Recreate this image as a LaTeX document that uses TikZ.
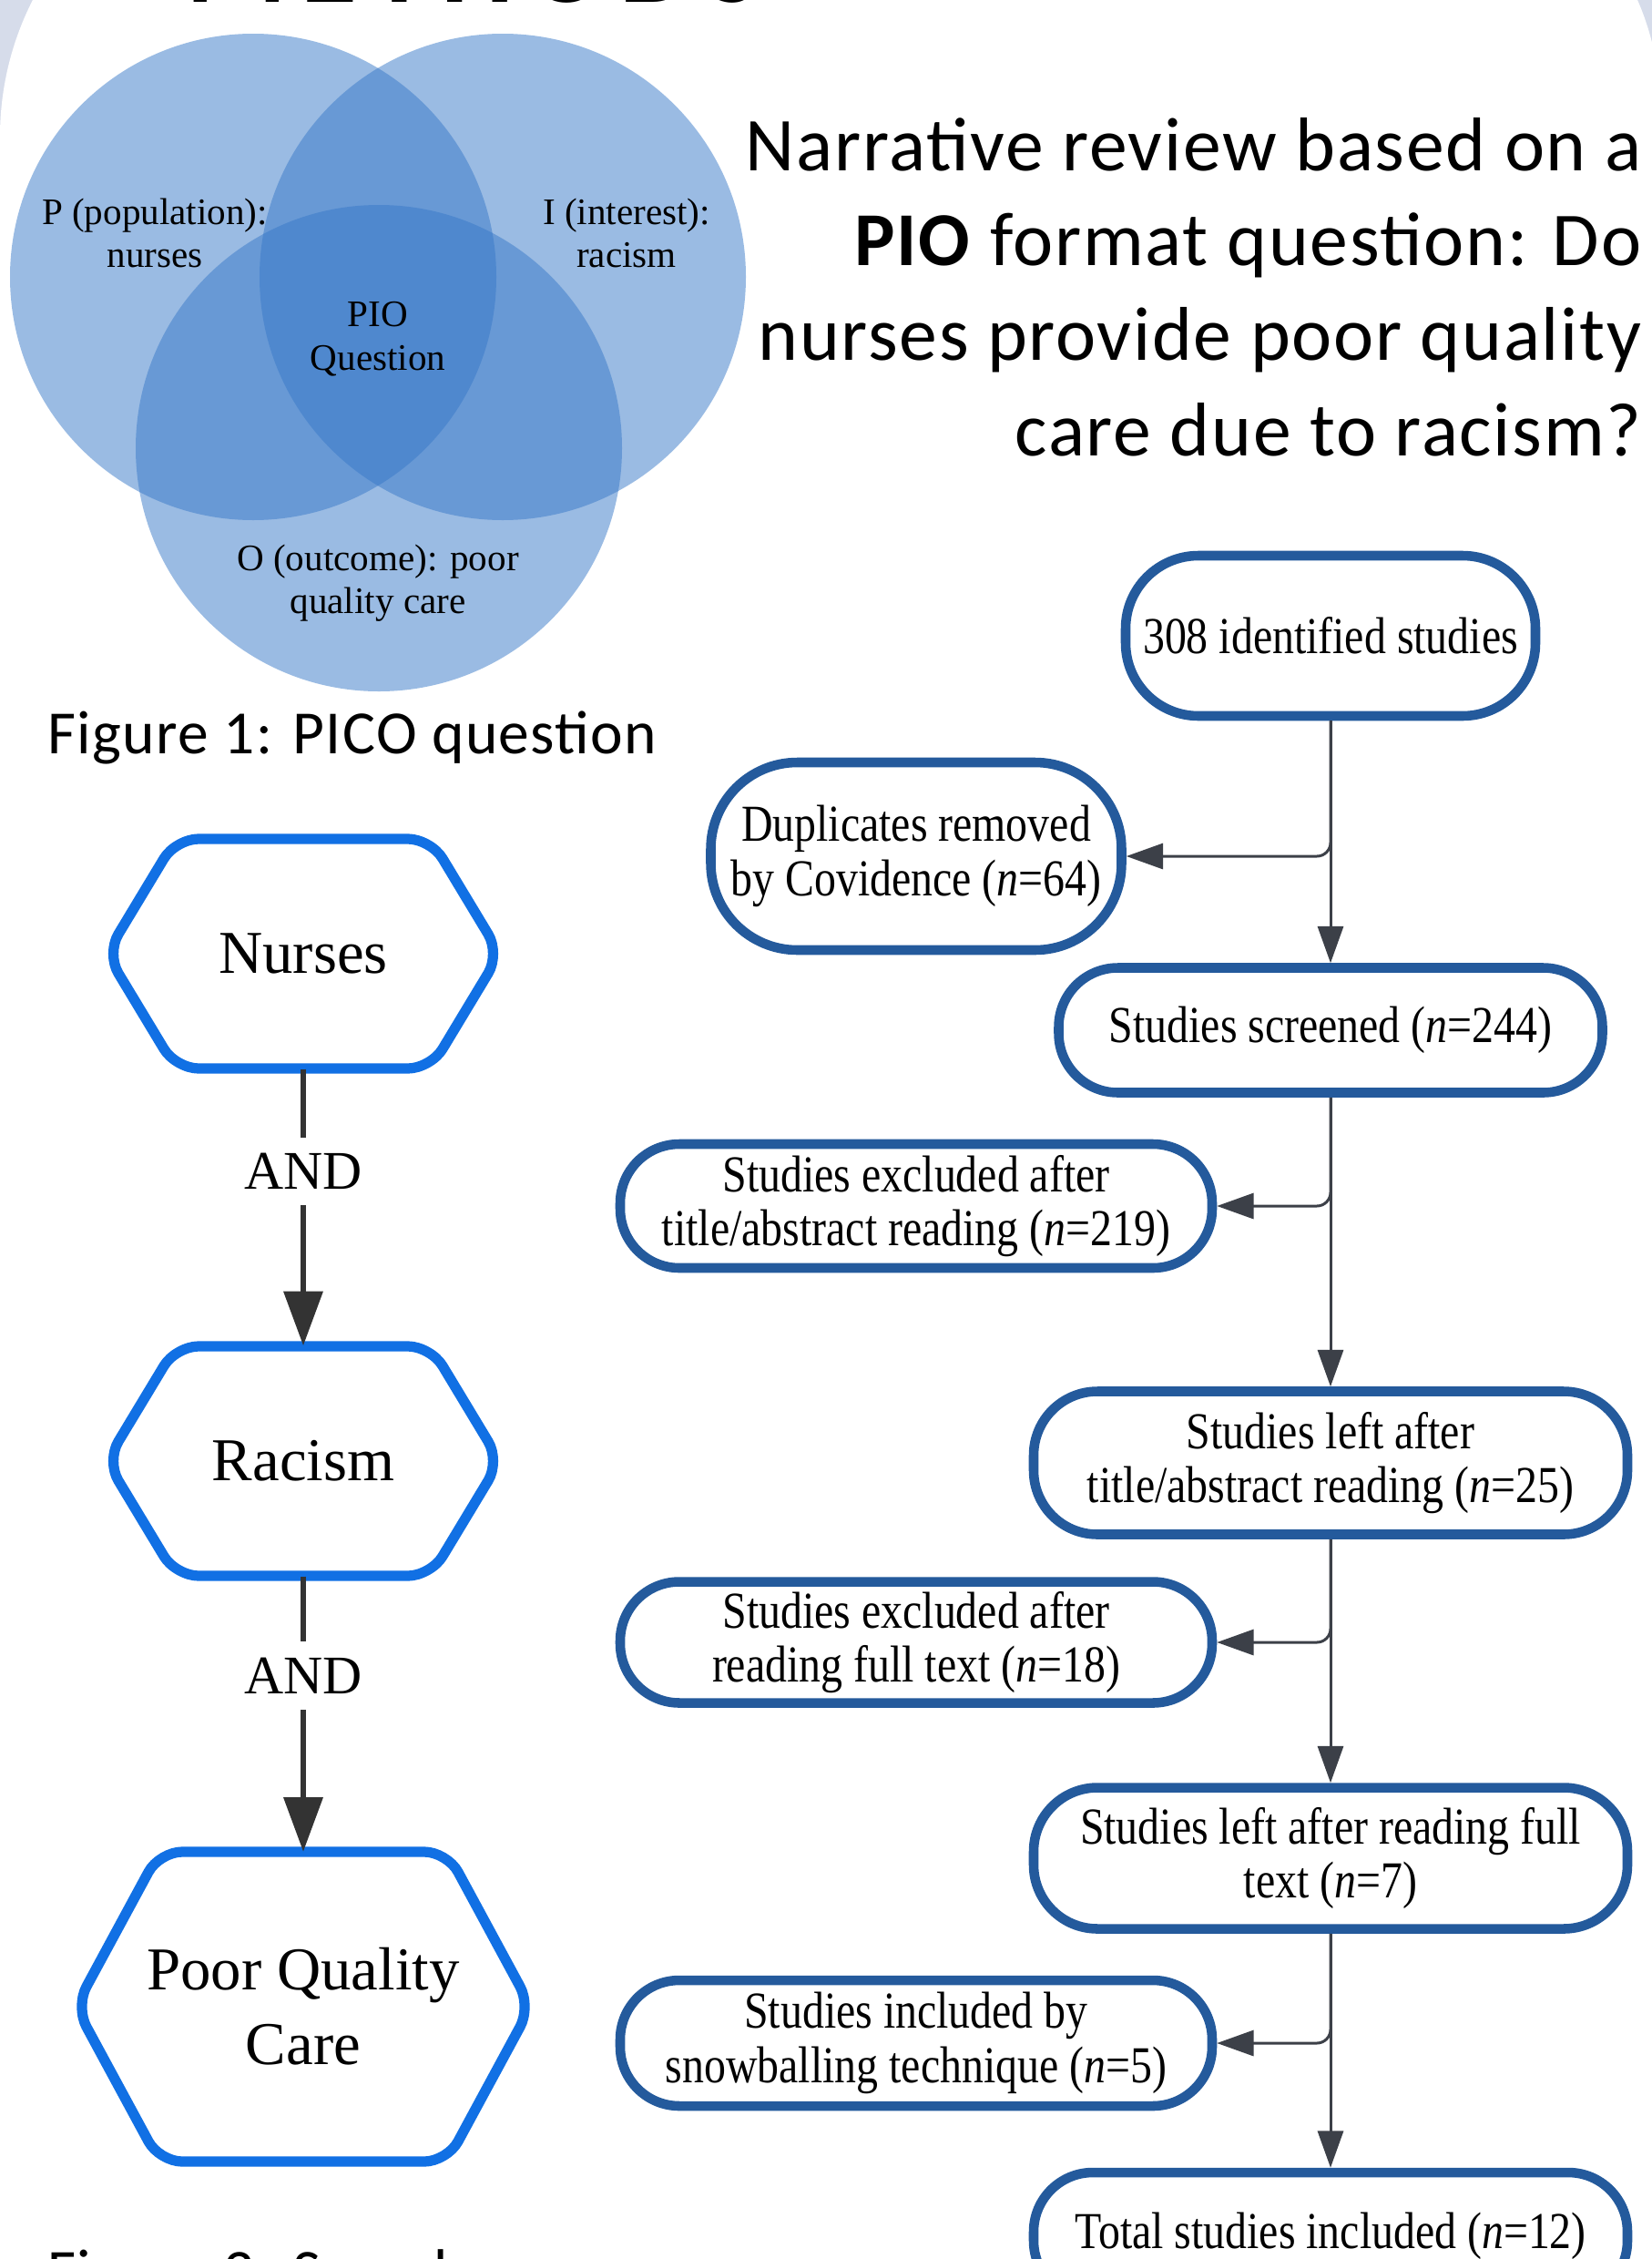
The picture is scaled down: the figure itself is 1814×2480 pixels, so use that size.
\documentclass[tikz,border=0pt]{standalone}
\usepackage{fontspec}
\setmainfont{Liberation Serif}
\newfontfamily\sansfont{Carlito}[LetterSpace=2]
\newfontfamily\flowfont{Liberation Serif}[FakeStretch=0.84]
\usepackage{tikz}
\usetikzlibrary{arrows.meta,positioning}

\definecolor{pagebg}{RGB}{214,220,234}
\definecolor{vennblue}{RGB}{55,120,200}
\definecolor{hexblue}{RGB}{17,112,228}
\definecolor{andgray}{RGB}{51,51,51}
\definecolor{flowblue}{RGB}{36,90,156}
\definecolor{flowgray}{RGB}{60,64,72}

% hexagon round a node: #1 node, #2 half top edge, #3 half width, #4 half height
\newcommand{\hexoutline}[4]{%
  \draw[hexline] ([shift={(-#2,-#4)}]#1.center) -- ([shift={(#2,-#4)}]#1.center)
    -- ([shift={(#3,0)}]#1.center) -- ([shift={(#2,#4)}]#1.center)
    -- ([shift={(-#2,#4)}]#1.center) -- ([shift={(-#3,0)}]#1.center) -- cycle;}

\begin{document}
\begin{tikzpicture}[
  x=0.1mm, y=-0.1mm,
  venn/.style={fill=vennblue, fill opacity=0.5},
  vennlbl/.style={font=\fontsize{11.7}{13.5}\selectfont, align=center},
  hexnode/.style={minimum height=25.2mm, inner sep=0pt,
                  font=\fontsize{19}{23.4}\selectfont, align=center},
  hexline/.style={draw=hexblue, line width=3.2pt, rounded corners=2.5mm},
  andarr/.style={-{Triangle[length=17pt,width=12pt]}, line width=1.8pt, draw=andgray},
  andlbl/.style={fill=white, font=\fontsize{17}{20}\selectfont,
                 inner xsep=2pt, inner ysep=5pt},
  flowbox/.style={draw=flowblue, line width=3pt, fill=white, rounded corners=6.5mm,
                  font=\flowfont\fontsize{16.2}{17}\selectfont, align=center, inner sep=0pt},
  flowarr/.style={-{Triangle[length=11.5pt,width=8pt]}, line width=0.85pt, draw=flowgray},
  caption/.style={font=\sansfont\fontsize{19.2}{23}\selectfont, anchor=base west, inner sep=0pt}
]
\useasboundingbox (0,0) rectangle (1814,2480);

% page ground and white panel
\fill[pagebg] (0,0) rectangle (1814,2480);
\fill[white] (0,2600) -- (0,150) arc[start angle=180, end angle=270, radius=330]
  -- (1523,-180) arc[start angle=270, end angle=360, radius=300] -- (1823,2600) -- cycle;

\node[font=\sansfont\bfseries\addfontfeature{LetterSpace=12}\fontsize{36}{40}\selectfont,
      anchor=base] (title) at (520,2) {METHODS};

% PIO venn
\fill[venn] (278,304) circle[radius=267];
\fill[venn] (552,304) circle[radius=267];
\fill[venn] (416,492) circle[radius=267];
\node[vennlbl] (pop) at (170,256) {P (population):\\nurses};
\node[vennlbl] (int) at (688,256) {I (interest):\\racism};
\node[vennlbl] (pio) at (415,372) {PIO\\Question};
\node[vennlbl] (out) at (415,640) {O (outcome): poor\\quality care};
\node[caption] (fig1) at (52,827) {Figure 1: PICO question};

\node[font=\sansfont\fontsize{23.8}{29.6}\selectfont, align=right, anchor=base east,
      inner sep=0pt] (question) at (1803,500)
  {Narrative review based on a\\ \textbf{PIO} format question: Do\\
   nurses provide poor quality\\ care due to racism?};

% search terms
\node[hexnode] (nurses) at (333,1047) {Nurses};
\node[hexnode] (racism) at (333,1604) {Racism};
\node[hexnode, minimum height=33.9mm] (care) at (333,2203) {Poor Quality\\Care};
\hexoutline{nurses}{140}{216}{126}
\hexoutline{racism}{140}{216}{126}
\hexoutline{care}{158}{250}{170}
\draw[andarr] (nurses) -- node[andlbl, pos=0.37] {AND} (racism);
\draw[andarr] (racism) -- node[andlbl, pos=0.36] {AND} (care);
\node[caption] (fig2) at (52,2516) {Figure 2: Search};

% screening flow
\node[flowbox, minimum width=45mm, minimum height=17.6mm, rounded corners=8mm]
  (ident) at (1461,698) {308 identified studies};
\node[flowbox, minimum width=45.1mm, minimum height=20.6mm, rounded corners=9.5mm]
  (dup) at (1006,940) {Duplicates removed\\by Covidence (\textit{n}=64)};
\node[flowbox, minimum width=59.7mm, minimum height=13.7mm]
  (screen) at (1461,1131) {Studies screened (\textit{n}=244)};
\node[flowbox, minimum width=65mm, minimum height=13.6mm]
  (excl1) at (1006,1324) {Studies excluded after\\title/abstract reading (\textit{n}=219)};
\node[flowbox, minimum width=65.2mm, minimum height=15.7mm, rounded corners=7mm]
  (left1) at (1461,1606) {Studies left after\\title/abstract reading (\textit{n}=25)};
\node[flowbox, minimum width=65mm, minimum height=13.3mm]
  (excl2) at (1006,1803) {Studies excluded after\\reading full text (\textit{n}=18)};
\node[flowbox, minimum width=65.2mm, minimum height=15.5mm, rounded corners=7mm]
  (left2) at (1461,2040) {Studies left after reading full\\text (\textit{n}=7)};
\node[flowbox, minimum width=65mm, minimum height=13.8mm]
  (snow) at (1006,2243) {Studies included by\\snowballing technique (\textit{n}=5)};
\node[flowbox, minimum width=65.2mm, minimum height=14mm]
  (total) at (1461,2455) {Total studies included (\textit{n}=12)};

\draw[flowarr] (ident) -- (screen);
\draw[flowarr, rounded corners=1.5mm] (ident.south) |- (dup.east);
\draw[flowarr] (screen) -- (left1);
\draw[flowarr, rounded corners=1.5mm] (screen.south) |- (excl1.east);
\draw[flowarr] (left1) -- (left2);
\draw[flowarr, rounded corners=1.5mm] (left1.south) |- (excl2.east);
\draw[flowarr] (left2) -- (total);
\draw[flowarr, rounded corners=1.5mm] (left2.south) |- (snow.east);
\end{tikzpicture}
\end{document}
